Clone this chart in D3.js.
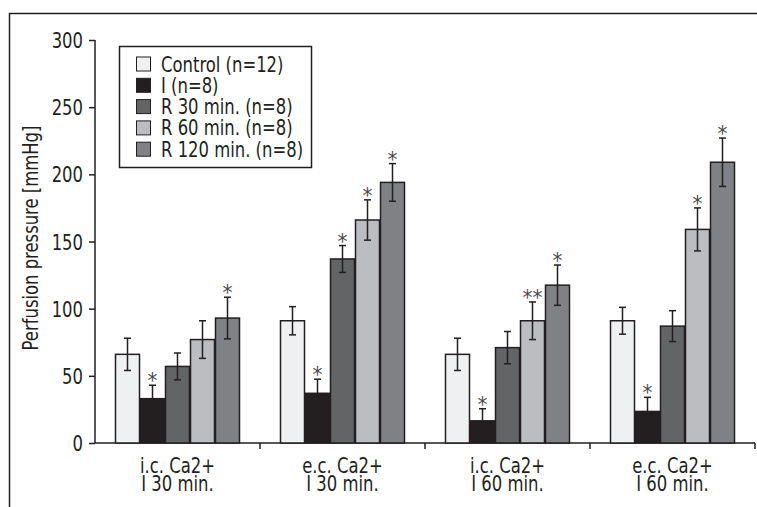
<!DOCTYPE html>
<html>
<head>
<meta charset="utf-8">
<script src="https://cdn.jsdelivr.net/npm/d3@7"></script>
<style>
  body { margin: 0; background: #fff; }
  text { font-family: "DejaVu Sans Condensed", "DejaVu Sans", sans-serif; font-stretch: condensed; fill: #231f20; }
</style>
</head>
<body>
<script>
const width = 757;
const height = 507;

// data
const categories = ["i.c. Ca2+|I 30 min.", "e.c. Ca2+|I 30 min.", "i.c. Ca2+|I 60 min.", "e.c. Ca2+|I 60 min."];
const series = ["Control (n=12)", "I (n=8)", "R 30 min. (n=8)", "R 60 min. (n=8)", "R 120 min. (n=8)"];
const colors = ["#eff0f2", "#231f20", "#636466", "#bcbdc0", "#808184"];

const control = [66, 91, 66, 91];
const ischemia = [33, 37, 16.5, 23.5];
const r30 = [57, 137, 71, 87];
const r60 = [77, 166, 91, 159];
const r120 = [93, 194, 117.5, 209];

const controlErr = [12, 10.5, 12, 10];
const ischemiaErr = [10, 10.5, 9, 10.5];
const r30Err = [10, 10, 12, 11.5];
const r60Err = [14, 15, 14, 16];
const r120Err = [15.5, 14, 15, 18];

// significance marks per category, per series
const stars = [
  ["", "*", "", "", "*"],
  ["", "*", "*", "*", "*"],
  ["", "*", "", "**", "*"],
  ["", "*", "", "*", "*"]
];

const yTicks = [0, 50, 100, 150, 200, 250, 300];

const values = [control, ischemia, r30, r60, r120];
const errors = [controlErr, ischemiaErr, r30Err, r60Err, r120Err];

const FS = 21;      // font size
const SQ = 0.87;    // horizontal squeeze, the original font is a narrow one

const svg = d3.select("body")
    .append("svg")
    .attr("width", width)
    .attr("height", height);

// narrow text: a group placed at the anchor, squeezed
function label(parent, x, yy, str, anchor, rot) {
    const g = parent.append("g")
        .attr("transform", "translate(" + x + "," + yy + ")" + (rot ? " rotate(" + rot + ")" : "") + " scale(" + SQ + ",1)");
    g.append("text")
        .attr("text-anchor", anchor || "start")
        .attr("font-size", FS)
        .text(str);
    return g;
}

// frame (only top and left edges show)
svg.append("path")
    .attr("d", "M9.5," + height + "V13.5H" + width)
    .attr("fill", "none")
    .attr("stroke", "#231f20")
    .attr("stroke-width", 1.5);

const x0 = d3.scaleBand()
    .domain(categories)
    .range([95, 755])
    .padding(0);

const x1 = d3.scaleBand()
    .domain(series)
    .range([20, 145])
    .padding(0);

const y = d3.scaleLinear()
    .domain([0, 300])
    .range([443, 40]);

// y axis
const yAxis = svg.append("g")
    .attr("transform", "translate(95,0)")
    .call(d3.axisLeft(y).tickValues(yTicks).tickSize(6).tickPadding(6));
yAxis.select(".domain").attr("stroke", "#231f20").attr("stroke-width", 1.5)
    .attr("d", "M0," + y(0) + "V" + y(300));
yAxis.selectAll(".tick line").attr("stroke", "#231f20").attr("stroke-width", 1.5);
yAxis.selectAll(".tick text")
    .attr("font-size", FS)
    .attr("fill", "#231f20")
    .attr("x", 0)
    .attr("dy", "0.36em")
    .attr("transform", "translate(-12,0) scale(" + SQ + ",1)");

// x axis
const xAxis = svg.append("g")
    .attr("transform", "translate(0," + y(0) + ")");
xAxis.append("line")
    .attr("x1", 95).attr("x2", 755)
    .attr("stroke", "#231f20").attr("stroke-width", 1.5);
xAxis.selectAll(".xtick")
    .data(categories)
    .enter().append("line")
    .attr("x1", d => x0(d) + x0.bandwidth())
    .attr("x2", d => x0(d) + x0.bandwidth())
    .attr("y1", 0).attr("y2", 6)
    .attr("stroke", "#231f20").attr("stroke-width", 1.5);

// two-line category labels, one text each
categories.forEach(c => {
    const cx = x0(c) + x0.bandwidth() / 2;
    const parts = c.split("|");
    const g = xAxis.append("g")
        .attr("transform", "translate(" + cx + ",30) scale(" + SQ + ",1)");
    const t = g.append("text")
        .attr("text-anchor", "middle")
        .attr("font-size", FS);
    t.append("tspan").attr("x", 0).attr("y", 0).text(parts[0]);
    t.append("tspan").attr("x", 0).attr("y", 18).text(parts[1]);
});

// bars
const groups = svg.selectAll(".grp")
    .data(categories)
    .enter().append("g")
    .attr("transform", d => "translate(" + x0(d) + ",0)");

groups.each(function (cat, ci) {
    const g = d3.select(this);
    series.forEach((s, si) => {
        const v = values[si][ci];
        const e = errors[si][ci];
        const bx = x1(s);
        const cx = bx + x1.bandwidth() / 2;
        g.append("rect")
            .attr("x", bx + 0.5)
            .attr("y", y(v))
            .attr("width", x1.bandwidth() - 1)
            .attr("height", y(0) - y(v))
            .attr("fill", colors[si])
            .attr("stroke", "#231f20")
            .attr("stroke-width", 1.5);
        // error bar
        g.append("line")
            .attr("x1", cx).attr("x2", cx)
            .attr("y1", y(v + e)).attr("y2", y(v - e))
            .attr("stroke", "#231f20").attr("stroke-width", 1.5);
        [v + e, v - e].forEach(t => {
            g.append("line")
                .attr("x1", cx - 3.5).attr("x2", cx + 3.5)
                .attr("y1", y(t)).attr("y2", y(t))
                .attr("stroke", "#231f20").attr("stroke-width", 1.5);
        });
        if (stars[ci][si]) {
            g.append("text")
                .attr("x", cx)
                .attr("y", y(v + e) + 3)
                .attr("text-anchor", "middle")
                .attr("font-size", 22)
                .style("fill", "#4a4a4c")
                .text(stars[ci][si]);
        }
    });
});

// y axis title
label(svg, 38, 238, "Perfusion pressure [mmHg]", "middle", -90);

// legend
const legend = svg.append("g");
legend.append("rect")
    .attr("x", 119.5).attr("y", 46.5)
    .attr("width", 192).attr("height", 121)
    .attr("fill", "#fff")
    .attr("stroke", "#231f20")
    .attr("stroke-width", 1.5);

legend.selectAll(".swatch")
    .data(series)
    .enter().append("rect")
    .attr("x", 136.5)
    .attr("y", (d, i) => 71.5 + i * 21.3 - 14.5)
    .attr("width", 14).attr("height", 14)
    .attr("fill", (d, i) => colors[i])
    .attr("stroke", "#231f20")
    .attr("stroke-width", 1);

const lt = legend.append("g")
    .attr("transform", "translate(161,71.5) scale(" + SQ + ",1)")
    .append("text")
    .attr("font-size", FS);
lt.selectAll("tspan")
    .data(series)
    .enter().append("tspan")
    .attr("x", 0)
    .attr("y", (d, i) => i * 21.3)
    .text(d => d);
</script>
</body>
</html>
